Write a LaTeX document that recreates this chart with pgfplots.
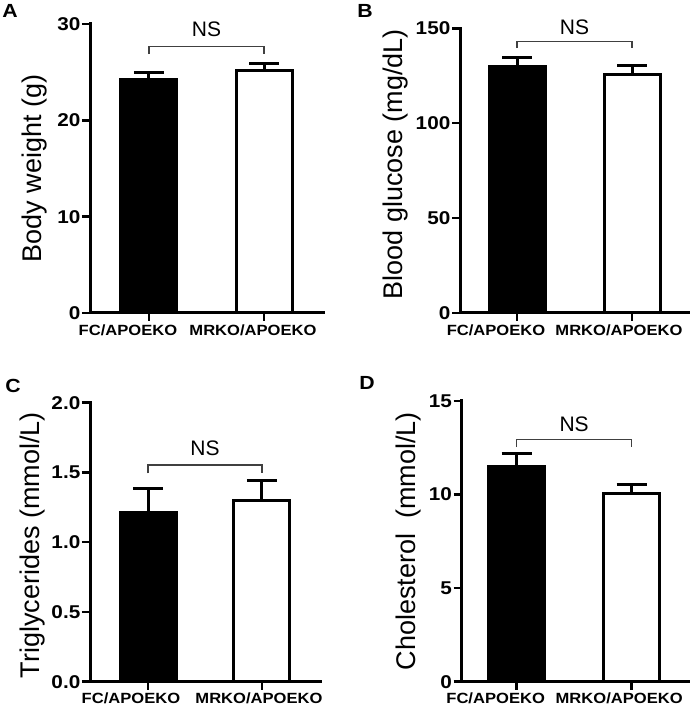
\documentclass[border=0pt]{standalone}
\usepackage{fontspec}
\setmainfont{Liberation Sans}
\newfontfamily\stf[FakeStretch=1.12]{Liberation Sans}
\usepackage{pgfplots}
\pgfplotsset{compat=1.18}
\tikzset{
  br/.style={line width=1.2pt, black!75},
  ns/.style={font=\fontsize{21}{21}\selectfont},
}
\newcommand{\shl}[2]{\makebox[0pt][c]{\hspace*{#1}#2}}
\pgfplotsset{
  gp/.style={
    scale only axis, axis lines=left,
    axis line style={-, line width=3pt, line cap=rect, black},
    enlargelimits=false, clip=false,
    tick align=outside, major tick length=8pt,
    tick style={line width=2.5pt, black},
    xtick={0,1},
    /pgf/number format/assume math mode=true,
    yticklabel style={font=\stf\bfseries\fontsize{18.5}{18.5}\selectfont, inner sep=1.5pt},
    xticklabel style={font=\stf\bfseries\fontsize{14.8}{14.8}\selectfont},
    ylabel style={font=\fontsize{27}{27}\selectfont, anchor=center},
    minor tick num=0,
  },
  gpbar/.style={
    error bars/y dir=plus, error bars/y explicit,
    error bars/error bar style={line width=3pt, black},
    error bars/error mark options={rotate=90, line width=3pt, mark size=15pt, black},
    ybar, bar width=56pt, bar shift=0pt, line width=3pt, draw=black, fill=#1,
  },
}
\begin{document}
\begin{tikzpicture}
\useasboundingbox (0pt,0pt) rectangle (693pt,708pt);
% Panel A
\begin{axis}[gp, at={(90pt,395pt)}, anchor=south west, width=233pt, height=289pt,
  xmin=-0.513, xmax=1.513, ymin=0, ymax=30, ytick={0,10,20,30},
  xticklabels={\shl{-42pt}{FC/APOEKO}, \shl{-22pt}{MRKO/APOEKO}},
  ylabel={Body weight (g)}, ylabel style={at={(axis description cs:-0.24,0.5)}}]
\addplot[gpbar=black] coordinates {(0,24.2) +- (0,0.8)};
\addplot[gpbar=white] coordinates {(1,25.2) +- (0,0.7)};
\draw[br] (axis cs:0,26.86) -- (axis cs:0,27.64) -- (axis cs:1,27.64) -- (axis cs:1,26.86);
\node[ns] at (axis cs:0.5,29.5) {NS};
\end{axis}
% Panel B
\begin{axis}[gp, at={(460pt,395pt)}, anchor=south west, width=228pt, height=284.7pt,
  xmin=-0.496, xmax=1.487, ymin=0, ymax=150, ytick={0,50,100,150},
  xticklabels={\shl{-42pt}{FC/APOEKO}, \shl{-26pt}{MRKO/APOEKO}},
  ylabel={Blood glucose (mg/dL)}, ylabel style={at={(axis description cs:-0.281,0.523)}}]
\addplot[gpbar=black] coordinates {(0,130.1) +- (0,4.6)};
\addplot[gpbar=white] coordinates {(1,125.9) +- (0,4.6)};
\draw[br] (axis cs:0,139.5) -- (axis cs:0,142.9) -- (axis cs:1,142.9) -- (axis cs:1,139.5);
\node[ns] at (axis cs:0.5,150.6) {NS};
\end{axis}
% Panel C
\begin{axis}[gp, at={(90pt,26.3pt)}, anchor=south west, width=230pt, height=279pt,
  xmin=-0.509, xmax=1.509, ymin=0, ymax=2, ytick={0,0.5,1,1.5,2},
  xticklabels={\shl{-34pt}{FC/APOEKO}, \shl{-6pt}{MRKO/APOEKO}},
  yticklabel style={/pgf/number format/.cd, fixed, fixed zerofill, precision=1},
  ylabel={Triglycerides (mmol/L)}, ylabel style={at={(axis description cs:-0.252,0.49)}}]
\addplot[gpbar=black] coordinates {(0,1.21) +- (0,0.175)};
\addplot[gpbar=white] coordinates {(1,1.30) +- (0,0.14)};
\draw[br] (axis cs:0,1.494) -- (axis cs:0,1.553) -- (axis cs:1,1.553) -- (axis cs:1,1.494);
\node[ns] at (axis cs:0.5,1.675) {NS};
\end{axis}
% Panel D
\begin{axis}[gp, at={(461.7pt,26.3pt)}, anchor=south west, width=226.3pt, height=280.7pt,
  xmin=-0.478, xmax=1.49, ymin=0, ymax=15, ytick={0,5,10,15},
  xticklabels={\shl{-42pt}{FC/APOEKO}, \shl{-25pt}{MRKO/APOEKO}},
  ylabel={Cholesterol\ \ (mmol/L)}, ylabel style={at={(axis description cs:-0.237,0.5)}}]
\addplot[gpbar=black] coordinates {(0,11.49) +- (0,0.71)};
\addplot[gpbar=white] coordinates {(1,10.07) +- (0,0.49)};
\draw[br] (axis cs:0,12.53) -- (axis cs:0,12.95) -- (axis cs:1,12.95) -- (axis cs:1,12.53);
\node[ns] at (axis cs:0.5,13.75) {NS};
\end{axis}
% Panel letters
\node[font=\stf\bfseries\fontsize{19}{19}\selectfont] at (10pt,697pt) {A};
\node[font=\stf\bfseries\fontsize{19}{19}\selectfont] at (365pt,697pt) {B};
\node[font=\stf\bfseries\fontsize{19}{19}\selectfont] at (13pt,322pt) {C};
\node[font=\stf\bfseries\fontsize{19}{19}\selectfont] at (367pt,325pt) {D};
\end{tikzpicture}
\end{document}
